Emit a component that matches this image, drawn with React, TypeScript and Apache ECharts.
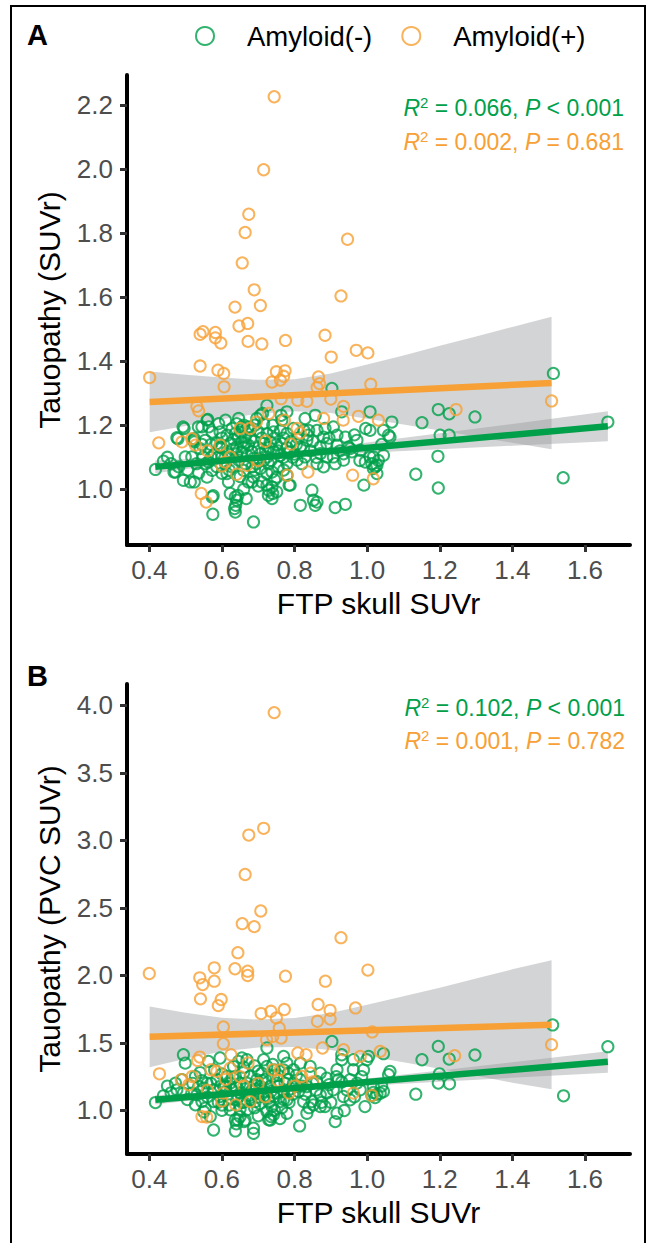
import React, { useEffect, useRef } from "react";
import * as echarts from "echarts";

const GREEN = "#00A04B";
const ORANGE = "#F7A035";
const BAND = "rgba(150,152,156,0.42)";
const FONT = "'Liberation Sans', Arial, Helvetica, sans-serif";

const X_TICKS = [0.4, 0.6, 0.8, 1.0, 1.2, 1.4, 1.6];
const YA_TICKS = [1.0, 1.2, 1.4, 1.6, 1.8, 2.0, 2.2];
const YB_TICKS = [1.0, 1.5, 2.0, 2.5, 3.0, 3.5, 4.0];

// Panel A: Amyloid(-)
const aNeg: [number, number][] = [
  [0.417,1.062],[0.439,1.088],[0.472,1.054],[0.494,1.028],[0.493,1.195],[0.496,1.190],[0.476,1.161],[0.522,1.153],[0.524,1.023],[0.536,1.051],
  [0.517,1.101],[0.548,1.101],[0.561,1.218],[0.545,1.195],[0.573,0.976],[0.575,0.922],[0.591,1.205],[0.594,1.132],[0.586,1.070],[0.614,1.049],
  [0.618,1.023],[0.623,0.987],[0.637,0.976],[0.641,0.966],[0.635,0.940],[0.637,0.929],[0.646,1.221],[0.641,1.205],[0.628,1.190],[0.655,1.195],
  [0.614,1.169],[0.637,1.174],[0.650,1.179],[0.664,1.163],[0.623,1.143],[0.641,1.132],[0.655,1.148],[0.673,1.138],[0.614,1.117],[0.641,1.111],
  [0.655,1.117],[0.682,1.117],[0.646,1.091],[0.664,1.080],[0.687,1.096],[0.660,1.059],[0.687,1.038],[0.683,1.023],[0.687,0.898],[0.706,1.231],
  [0.696,1.221],[0.715,1.205],[0.724,1.174],[0.742,1.179],[0.715,1.143],[0.733,1.148],[0.706,1.111],[0.724,1.101],[0.742,1.117],[0.728,1.080],
  [0.724,1.049],[0.738,1.054],[0.751,1.038],[0.724,1.013],[0.738,1.007],[0.728,0.981],[0.738,0.971],[0.751,0.992],[0.724,1.262],[0.779,1.242],
  [0.765,1.216],[0.761,1.184],[0.779,1.174],[0.797,1.190],[0.765,1.143],[0.788,1.117],[0.816,1.132],[0.834,1.153],[0.779,1.080],[0.807,1.091],
  [0.829,1.101],[0.779,1.044],[0.788,1.013],[0.816,0.950],[0.848,0.997],[0.852,0.966],[0.862,0.960],[0.857,0.950],[0.912,0.943],[0.940,0.953],
  [0.862,1.184],[0.884,1.190],[0.907,1.195],[0.880,1.163],[0.917,1.169],[0.940,1.163],[0.972,1.153],[0.871,1.132],[0.889,1.143],[0.917,1.138],
  [0.949,1.132],[0.907,1.101],[0.935,1.111],[0.953,1.127],[0.912,1.080],[0.935,1.091],[0.563,1.085],[0.573,1.059],[0.513,1.023],[0.559,1.038],
  [0.481,1.070],[0.499,1.101],[0.540,1.127],[0.554,1.153],[0.573,1.179],[0.595,1.179],[0.586,1.143],[0.600,1.101],[0.628,1.070],[0.706,1.065],
  [0.710,1.023],[0.673,1.023],[0.683,1.070],[0.862,1.080],[0.880,1.070],[0.820,1.080],[0.889,1.101],[0.871,1.111],[0.958,1.117],[0.981,1.122],
  [0.995,1.085],[1.017,1.101],[1.027,1.049],[0.857,1.231],[0.839,1.184],[0.829,1.221],[0.576,0.980],[0.638,0.950],[0.644,0.981],[0.667,0.971],
  [0.729,0.997],[0.740,0.987],[0.785,1.013],[0.468,1.054],[0.479,1.158],[0.524,1.158],[0.524,1.148],[0.559,1.216],[0.564,1.195],[0.535,1.195],
  [0.610,1.216],[0.672,1.195],[0.678,1.184],[0.712,1.237],[0.763,1.231],[0.826,1.184],[0.837,1.169],[0.600,1.160],[0.620,1.100],[0.632,1.155],
  [0.660,1.130],[0.670,1.105],[0.690,1.150],[0.700,1.130],[0.700,1.180],[0.720,1.120],[0.735,1.090],[0.750,1.140],[0.755,1.070],[0.760,1.105],
  [0.770,1.160],[0.790,1.150],[0.800,1.110],[0.810,1.160],[0.825,1.130],[0.845,1.120],[0.850,1.150],[0.860,1.100],[0.580,1.110],[0.570,1.140],
  [0.555,1.080],[0.530,1.080],[0.505,1.060],[0.460,1.080],[0.450,1.100],[0.895,1.160],[0.925,1.120],[0.965,1.170],[0.980,1.090],[1.040,1.140],
  [0.610,1.080],[0.630,1.125],[0.645,1.160],[0.665,1.145],[0.680,1.160],[0.695,1.080],[0.710,1.160],[0.715,1.090],[0.730,1.130],[0.745,1.160],
  [0.755,1.120],[0.770,1.100],[0.780,1.130],[0.795,1.100],[0.805,1.140],[0.620,1.060],[0.650,1.040],[0.690,1.060],[0.745,1.030],[0.770,1.060],
  [0.600,1.130],[0.590,1.100],[0.545,1.140],[0.570,1.100],[0.660,1.200],[0.690,1.200],[0.740,1.200],[0.700,1.010],[0.660,1.000],[0.600,1.050],
  [0.903,1.315],[0.930,1.242],[0.996,1.190],[0.991,1.013],[1.008,1.242],[1.068,1.210],[1.045,1.184],[1.059,1.169],[1.063,1.163],[1.008,1.184],
  [1.045,1.106],[1.031,1.090],[1.027,1.075],[1.017,1.065],[1.022,1.070],[1.013,1.080],[1.008,1.101],[1.151,1.208],[1.196,1.249],[1.226,1.236],
  [1.297,1.226],[1.201,1.169],[1.226,1.169],[1.195,1.103],[1.134,1.047],[1.196,1.004],[1.513,1.362],[1.540,1.036],[1.663,1.210],
];

// Panel A: Amyloid(+)
const aPos: [number, number][] = [
  [0.401,1.349],[0.426,1.145],[0.490,1.148],[0.517,1.158],[0.527,1.138],[0.531,1.259],[0.536,1.245],[0.540,1.385],[0.540,1.484],[0.548,1.492],
  [0.543,0.987],[0.557,0.960],[0.582,1.490],[0.582,1.473],[0.597,1.457],[0.589,1.372],[0.605,1.362],[0.606,1.320],[0.595,1.138],[0.600,1.073],
  [0.609,1.085],[0.623,1.101],[0.636,1.569],[0.641,1.047],[0.647,1.510],[0.656,1.707],[0.664,1.802],[0.669,1.075],[0.671,1.518],[0.672,1.462],
  [0.674,1.859],[0.678,1.190],[0.689,1.623],[0.695,1.210],[0.706,1.574],[0.710,1.454],[0.715,1.998],[0.729,1.237],[0.738,1.335],[0.744,2.226],
  [0.750,1.367],[0.761,1.341],[0.763,1.283],[0.770,1.353],[0.772,1.216],[0.774,1.370],[0.775,1.465],[0.780,1.044],[0.790,1.141],[0.807,1.190],
  [0.809,1.278],[0.816,1.176],[0.834,1.275],[0.837,1.054],[0.862,1.318],[0.866,1.351],[0.869,1.330],[0.880,1.221],[0.884,1.481],[0.900,1.282],
  [0.901,1.413],[0.928,1.604],[0.935,1.259],[0.934,1.216],[0.946,1.781],[0.960,1.044],[0.970,1.434],[0.976,1.228],[1.002,1.426],[1.010,1.328],
  [1.017,1.033],[1.031,1.216],[1.245,1.249],[1.508,1.276],[0.650,1.190],[0.720,1.150],[0.560,1.120],[0.700,1.090],
];

// Panel B: Amyloid(-)
const bNeg: [number, number][] = [
  [0.417,1.058],[0.439,1.108],[0.472,1.202],[0.490,1.227],[0.494,1.412],[0.499,1.350],[0.494,1.128],[0.476,1.152],[0.527,1.252],[0.536,1.177],
  [0.527,1.041],[0.545,1.066],[0.517,1.128],[0.550,1.165],[0.563,1.363],[0.595,1.388],[0.577,0.855],[0.568,0.954],[0.554,1.016],[0.577,1.066],
  [0.595,1.103],[0.605,1.177],[0.586,1.227],[0.614,1.251],[0.632,1.326],[0.646,1.363],[0.655,1.388],[0.669,1.375],[0.637,1.251],[0.650,1.202],
  [0.628,1.152],[0.641,1.078],[0.623,1.004],[0.637,0.929],[0.637,0.848],[0.650,0.954],[0.664,0.929],[0.669,1.004],[0.687,0.868],[0.687,0.830],
  [0.692,1.066],[0.683,1.152],[0.696,1.227],[0.710,1.276],[0.715,1.375],[0.724,1.462],[0.724,1.326],[0.742,1.251],[0.733,1.177],[0.751,1.128],
  [0.728,1.090],[0.738,1.028],[0.724,0.991],[0.742,0.967],[0.733,0.929],[0.761,1.066],[0.770,1.140],[0.774,1.202],[0.783,1.276],[0.779,1.350],
  [0.797,1.301],[0.816,1.227],[0.811,1.140],[0.825,1.066],[0.814,0.885],[0.848,1.066],[0.852,1.041],[0.861,1.214],[0.871,1.115],[0.889,1.239],
  [0.884,1.028],[0.912,0.917],[0.917,0.979],[0.907,1.152],[0.921,1.227],[0.937,0.999],[0.935,1.103],[0.953,1.227],[0.972,1.202],[0.994,1.028],
  [0.930,1.412],[0.930,1.375],[0.999,1.375],[1.004,1.400],[0.903,1.511],[0.962,1.301],[0.981,1.152],[1.017,1.177],[0.669,1.202],[0.706,1.177],
  [0.715,1.103],[0.678,1.251],[0.751,1.202],[0.797,1.202],[0.834,1.177],[0.871,1.276],[0.889,1.128],[0.595,1.177],[0.577,1.152],[0.623,1.202],
  [0.650,1.128],[0.696,1.128],[0.779,1.078],[0.559,1.202],[0.531,1.115],[0.779,0.979],[0.834,0.979],[0.871,1.028],[0.953,1.078],[0.917,1.301],
  [0.843,1.326],[0.816,1.350],[0.770,1.400],[0.962,1.375],[0.610,1.140],[0.625,1.090],[0.640,1.170],[0.655,1.060],[0.675,1.110],[0.690,1.190],
  [0.705,1.050],[0.720,1.230],[0.735,1.140],[0.745,1.300],[0.755,1.180],[0.765,1.020],[0.790,1.160],[0.805,1.260],[0.830,1.120],[0.850,1.200],
  [0.860,1.150],[0.875,1.060],[0.895,1.190],[0.915,1.250],[0.945,1.150],[0.965,1.100],[0.985,1.250],[0.540,1.280],[0.520,1.200],[0.505,1.080],
  [0.460,1.130],[0.450,1.180],[0.580,1.300],[0.600,1.040],[0.660,1.320],[0.700,1.290],[0.785,1.060],[0.820,1.180],[0.640,0.900],[0.700,0.960],
  [0.760,0.940],[0.600,1.000],[0.550,0.990],[0.840,1.020],[0.900,1.060],[0.930,1.210],[1.040,1.180],[0.990,1.300],[0.644,0.930],[0.661,0.917],
  [0.729,0.930],[0.735,0.954],[0.610,1.180],[0.630,1.240],[0.645,1.100],[0.665,1.160],[0.680,1.080],[0.695,1.160],[0.710,1.220],[0.715,1.140],
  [0.730,1.060],[0.745,1.100],[0.755,1.260],[0.770,1.080],[0.780,1.230],[0.795,1.120],[0.805,1.180],[0.620,1.040],[0.650,1.010],[0.690,1.020],
  [0.745,1.000],[0.770,1.300],[0.600,1.270],[0.590,1.060],[0.545,1.220],[0.570,1.200],[0.660,1.280],[0.690,1.330],[0.740,1.340],[0.700,1.100],
  [0.660,1.060],[0.560,1.100],
  [1.045,1.420],[1.063,1.288],[1.059,1.264],[1.045,1.140],[1.036,1.127],[1.027,1.120],[1.017,1.133],[1.013,1.110],
  [1.022,1.095],[1.151,1.375],[1.196,1.474],[1.226,1.380],[1.297,1.410],[1.199,1.271],[1.196,1.202],[1.227,1.197],[1.134,1.120],[1.511,1.633],
  [1.541,1.108],[1.663,1.472],
];

// Panel B: Amyloid(+)
const bPos: [number, number][] = [
  [0.744,3.946],[0.715,3.089],[0.674,3.039],[0.664,2.747],[0.707,2.477],[0.656,2.383],[0.689,2.361],[0.928,2.279],[0.644,2.168],[0.400,2.014],
  [0.539,1.982],[0.547,1.932],[0.579,2.056],[0.579,1.957],[0.636,2.049],[0.671,2.031],[0.671,1.999],[0.775,1.994],[0.885,1.957],[1.002,2.039],
  [0.541,1.826],[0.598,1.821],[0.590,1.776],[0.708,1.717],[0.735,1.734],[0.750,1.685],[0.772,1.747],[0.865,1.784],[0.898,1.741],[0.898,1.677],
  [0.968,1.759],[0.604,1.618],[0.604,1.494],[0.758,1.611],[0.763,1.536],[0.740,1.548],[0.863,1.660],[1.014,1.581],[0.723,1.524],[0.539,1.395],
  [0.533,1.370],[0.625,1.412],[0.428,1.271],[0.488,1.227],[0.518,1.251],[0.935,1.449],[0.877,1.462],[0.809,1.425],[0.832,1.412],[1.036,1.437],
  [0.962,1.128],[1.013,1.110],[1.241,1.405],[1.508,1.487],[0.545,0.954],[0.558,0.950],[0.638,1.041],[0.678,1.065],[0.604,1.128],[0.785,1.128],
  [0.820,1.251],[0.844,1.276],[0.672,1.351],[0.570,1.301],[0.509,1.190],[0.650,1.250],[0.700,1.200],[0.760,1.300],[0.560,1.150],[0.800,1.180],
  [0.981,1.400],[0.586,1.289],[0.623,1.313],[0.740,1.300],[0.610,1.230],[0.660,1.180],[0.720,1.100],[0.755,1.220],[0.850,1.210],[0.600,1.070],
];

// Fitted lines (end points)
const aNegFit: [number, number][] = [[0.4165, 1.070], [1.663, 1.197]];
const aPosFit: [number, number][] = [[0.401, 1.273], [1.508, 1.332]];
const bNegFit: [number, number][] = [[0.4165, 1.078], [1.663, 1.360]];
const bPosFit: [number, number][] = [[0.401, 1.545], [1.508, 1.634]];

// Confidence bands
const aNegBandX = [0.4165, 0.6, 0.8, 1.0, 1.2, 1.4, 1.663];
const aNegBandHi = [1.090, 1.100, 1.119, 1.146, 1.175, 1.204, 1.244];
const aNegBandLo = [1.050, 1.078, 1.099, 1.114, 1.125, 1.136, 1.150];

const aPosBandX = [0.401, 0.5, 0.6, 0.7, 0.8, 0.9, 1.0, 1.1, 1.2, 1.3, 1.4, 1.508];
const aPosBandHi = [1.368, 1.358, 1.349, 1.342, 1.344, 1.362, 1.390, 1.418, 1.448, 1.477, 1.507, 1.539];
const aPosBandLo = [1.178, 1.198, 1.219, 1.236, 1.244, 1.238, 1.220, 1.202, 1.184, 1.165, 1.145, 1.125];

const bNegBandX = [0.4165, 0.6, 0.8, 1.0, 1.2, 1.4, 1.663];
const bNegBandHi = [1.113, 1.139, 1.181, 1.236, 1.296, 1.357, 1.438];
const bNegBandLo = [1.043, 1.099, 1.147, 1.182, 1.212, 1.241, 1.278];

const bPosBandX = [0.401, 0.5, 0.6, 0.7, 0.8, 0.9, 1.0, 1.1, 1.2, 1.3, 1.4, 1.508];
const bPosBandHi = [1.770, 1.723, 1.686, 1.673, 1.685, 1.722, 1.783, 1.846, 1.909, 1.977, 2.045, 2.112];
const bPosBandLo = [1.320, 1.383, 1.436, 1.465, 1.469, 1.448, 1.403, 1.356, 1.309, 1.257, 1.205, 1.156];

const annotA = [
  { color: GREEN, r2: "0.066", p: "< 0.001" },
  { color: ORANGE, r2: "0.002", p: "= 0.681" },
];
const annotB = [
  { color: GREEN, r2: "0.102", p: "< 0.001" },
  { color: ORANGE, r2: "0.001", p: "= 0.782" },
];

function band(idx: number, bx: number[], lo: number[], hi: number[]) {
  return {
    type: "custom",
    xAxisIndex: idx,
    yAxisIndex: idx,
    silent: true,
    z: 1,
    data: [[bx[0], lo[0]]],
    renderItem: (_p: any, api: any) => {
      const pts: number[][] = [];
      for (let i = 0; i < bx.length; i++) pts.push(api.coord([bx[i], hi[i]]));
      for (let i = bx.length - 1; i >= 0; i--) pts.push(api.coord([bx[i], lo[i]]));
      return { type: "polygon", shape: { points: pts }, style: { fill: BAND } };
    },
  };
}

function scatter(idx: number, name: string, color: string, data: [number, number][]) {
  return {
    type: "scatter",
    name,
    xAxisIndex: idx,
    yAxisIndex: idx,
    data,
    symbol: "circle",
    symbolSize: 11.2,
    z: 2,
    itemStyle: { color: "transparent", borderColor: color, borderWidth: 2 },
    silent: true,
  };
}

function fit(idx: number, color: string, data: [number, number][]) {
  return {
    type: "line",
    xAxisIndex: idx,
    yAxisIndex: idx,
    data,
    showSymbol: false,
    z: 3,
    silent: true,
    lineStyle: { color, width: 6.5, cap: "butt" },
  };
}

function xAxis(idx: number) {
  return {
    type: "value",
    gridIndex: idx,
    min: 0.3386,
    max: 1.724,
    name: "FTP skull SUVr",
    nameLocation: "middle",
    nameGap: 43,
    nameTextStyle: { fontSize: 30, color: "#000", fontFamily: FONT },
    axisLine: { show: true, onZero: false, lineStyle: { color: "#000", width: 4 } },
    axisTick: { show: true, length: 7, customValues: X_TICKS, lineStyle: { color: "#333", width: 3 } },
    axisLabel: {
      customValues: X_TICKS,
      formatter: (v: number) => v.toFixed(1),
      fontSize: 26,
      color: "#4D4D4D",
      margin: 12,
      fontFamily: FONT,
    },
    splitLine: { show: false },
  };
}

function yAxis(idx: number, name: string, min: number, max: number, ticks: number[]) {
  return {
    type: "value",
    gridIndex: idx,
    min,
    max,
    name,
    nameLocation: "middle",
    nameGap: 63,
    nameRotate: 90,
    nameTextStyle: { fontSize: 30, color: "#000", fontFamily: FONT },
    axisLine: { show: true, onZero: false, lineStyle: { color: "#000", width: 4 } },
    axisTick: { show: true, length: 7, customValues: ticks, lineStyle: { color: "#333", width: 3 } },
    axisLabel: {
      customValues: ticks,
      formatter: (v: number) => v.toFixed(1),
      fontSize: 26,
      color: "#4D4D4D",
      margin: 14,
      fontFamily: FONT,
    },
    splitLine: { show: false },
  };
}

function annotText(x: number, y: number, a: { color: string; r2: string; p: string }) {
  const base = { fontSize: 23, fontFamily: FONT, fill: a.color, lineHeight: 27, verticalAlign: "middle" };
  return {
    type: "text",
    x,
    y,
    silent: true,
    style: {
      text: `{i|R}{s|2}{n| = ${a.r2}, }{i|P}{n| ${a.p}}`,
      textAlign: "right",
      textVerticalAlign: "middle",
      fill: a.color,
      fontSize: 23,
      fontFamily: FONT,
      rich: {
        i: { ...base, fontStyle: "italic" },
        n: { ...base },
        s: { fontSize: 15, fontFamily: FONT, fill: a.color, verticalAlign: "top", lineHeight: 15 },
      },
    },
  };
}

export default function App() {
  const ref = useRef<HTMLDivElement>(null);
  useEffect(() => {
    if (!ref.current) return;
    const chart = echarts.init(ref.current, undefined, { renderer: "svg" });
    chart.setOption({
      animation: false,
      backgroundColor: "#fff",
      textStyle: { fontFamily: FONT },
      legend: {
        data: ["Amyloid(-)", "Amyloid(+)"],
        left: 190,
        top: 17,
        icon: "circle",
        itemWidth: 18,
        itemHeight: 18,
        itemGap: 29,
        selectedMode: false,
        itemStyle: { color: "transparent", borderWidth: 2 },
        textStyle: { fontSize: 27.5, color: "#000", fontFamily: FONT, padding: [0, 0, 0, 28] },
      },
      grid: [
        { left: 127, top: 75, width: 503, height: 470 },
        { left: 127, top: 684, width: 503, height: 470 },
      ],
      xAxis: [xAxis(0), xAxis(1)],
      yAxis: [
        yAxis(0, "Tauopathy (SUVr)", 0.826, 2.294, YA_TICKS),
        yAxis(1, "Tauopathy (PVC SUVr)", 0.677, 4.158, YB_TICKS),
      ],
      series: [
        band(0, aNegBandX, aNegBandLo, aNegBandHi),
        band(0, aPosBandX, aPosBandLo, aPosBandHi),
        scatter(0, "Amyloid(-)", GREEN, aNeg),
        scatter(0, "Amyloid(+)", ORANGE, aPos),
        fit(0, GREEN, aNegFit),
        fit(0, ORANGE, aPosFit),
        band(1, bNegBandX, bNegBandLo, bNegBandHi),
        band(1, bPosBandX, bPosBandLo, bPosBandHi),
        scatter(1, "Amyloid(-)", GREEN, bNeg),
        scatter(1, "Amyloid(+)", ORANGE, bPos),
        fit(1, GREEN, bNegFit),
        fit(1, ORANGE, bPosFit),
      ],
      graphic: [
        { type: "rect", silent: true, shape: { x: 11, y: 6, width: 634, height: 1260 }, style: { fill: "none", stroke: "#000", lineWidth: 2 } },
        { type: "text", x: 27, y: 35, silent: true, style: { text: "A", fontSize: 29, fontWeight: "bold", fontFamily: FONT, fill: "#000", textVerticalAlign: "middle" } },
        { type: "text", x: 27, y: 676, silent: true, style: { text: "B", fontSize: 29, fontWeight: "bold", fontFamily: FONT, fill: "#000", textVerticalAlign: "middle" } },
        annotText(624, 108, annotA[0]),
        annotText(624, 142, annotA[1]),
        annotText(625, 708, annotB[0]),
        annotText(625, 741, annotB[1]),
      ],
    });
    return () => chart.dispose();
  }, []);
  return <div ref={ref} style={{ position: "absolute", left: 0, top: 0, width: 648, height: 1243 }} />;
}
